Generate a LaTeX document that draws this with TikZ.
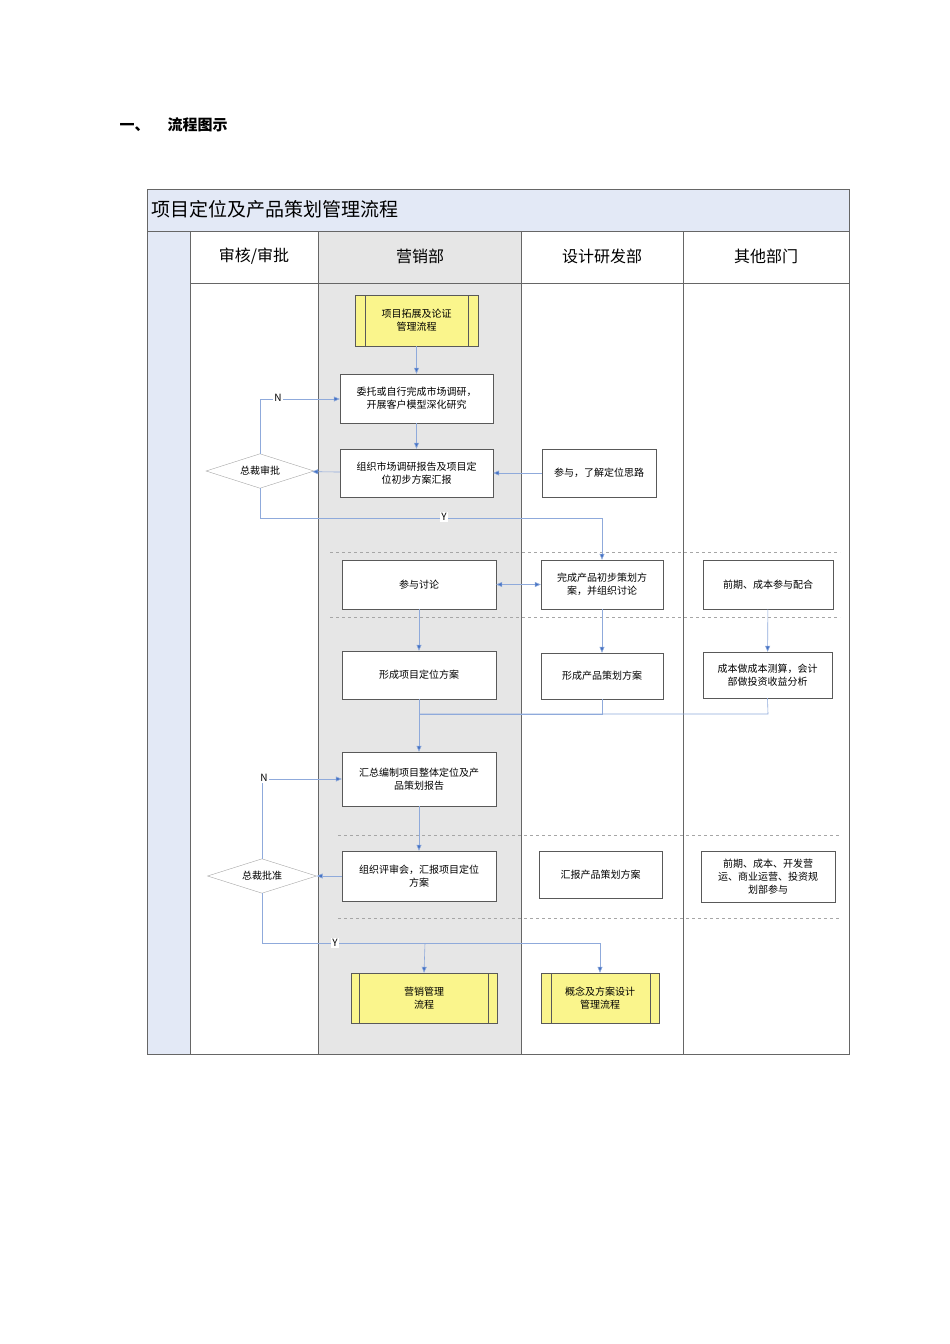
\documentclass[tikz,border=0pt]{standalone}
\usepackage{fontspec}
\setmainfont{Noto Sans CJK SC}
\usetikzlibrary{shapes.geometric,arrows.meta}
\definecolor{lane}{HTML}{E6E6E6}
\definecolor{strip}{HTML}{E3E9F6}
\definecolor{ln}{HTML}{8FAADB}
\definecolor{ar}{HTML}{4472C4}
\definecolor{yel}{HTML}{FAF58C}
\begin{document}
\begin{tikzpicture}[x=1pt,y=-1pt,
  box/.style={draw=gray!70!black,fill=white,minimum width=#1,align=center,font=\fontsize{10}{13}\selectfont,inner sep=1pt},
  box/.default=154pt,
  sub/.style={draw=gray!70!black,fill=yel,align=center,font=\fontsize{10}{13}\selectfont},
  dia/.style={diamond,draw=gray!70,fill=white,aspect=1.8,inner sep=1pt,font=\fontsize{10}{12}\selectfont,minimum width=#1},
  con/.style={draw=ln,line width=0.6pt,-{Triangle[length=6pt,width=5pt,fill=ar]}},
  pl/.style={draw=ln,line width=0.6pt},
  dsh/.style={draw=gray!70,dashed,line width=0.6pt},
  lbl/.style={fill=white,inner sep=1pt,font=\fontsize{10}{10}\selectfont}]
\useasboundingbox (0,0) rectangle (950,1344);
\node[anchor=west,font=\fontsize{15}{15}\selectfont\bfseries] (hd) at (116,125) {一、\hspace{18pt}流程图示};
% frame
\fill[strip] (147,189) rectangle (849,231);
\fill[strip] (147,231) rectangle (190,1054);
\fill[lane] (318,231) rectangle (521,1054);
\draw[gray!80!black] (147,189) rectangle (849,1054);
\draw[gray!80!black] (147,231) -- (849,231);
\draw[gray!80!black] (190,283) -- (849,283);
\foreach \x in {190,318,521,683} \draw[gray!80!black] (\x,231) -- (\x,1054);
\node[anchor=west,font=\fontsize{19}{19}\selectfont] (tt) at (148,209) {项目定位及产品策划管理流程};
\node[font=\fontsize{16}{16}\selectfont] (h1) at (254,256) {审核/审批};
\node[font=\fontsize{16}{16}\selectfont] (h2) at (420,256) {营销部};
\node[font=\fontsize{16}{16}\selectfont] (h3) at (602,256) {设计研发部};
\node[font=\fontsize{16}{16}\selectfont] (h4) at (766,256) {其他部门};
% dashed separators
\draw[dsh] (330,552) -- (840,552);
\draw[dsh] (330,617) -- (840,617);
\draw[dsh] (338,835) -- (840,835);
\draw[dsh] (338,918) -- (840,918);
% nodes
\node[sub,minimum width=123pt,minimum height=51pt] (s1) at (416.5,320.5) {项目拓展及论证\\管理流程};
\draw[gray!70!black] (365,295) -- (365,346) (468,295) -- (468,346);
\node[box=153pt,minimum height=49pt] (b1) at (416.5,398.5) {委托或自行完成市场调研，\\开展客户模型深化研究};
\node[box=153pt,minimum height=48pt] (b2) at (416.5,473) {组织市场调研报告及项目定\\位初步方案汇报};
\node[box=114pt,minimum height=48pt] (b3) at (599,473) {参与，了解定位思路};
\node[dia=108pt] (d1) at (260,471) {总裁审批};
\node[box=154pt,minimum height=49pt] (b4) at (419,584.5) {参与讨论};
\node[box=122pt,minimum height=49pt] (b5) at (602,584.5) {完成产品初步策划方\\案，并组织讨论};
\node[box=130pt,minimum height=49pt] (b6) at (768,584.5) {前期、成本参与配合};
\node[box=154pt,minimum height=48pt] (b7) at (419,675) {形成项目定位方案};
\node[box=122pt,minimum height=46pt] (b8) at (602,676) {形成产品策划方案};
\node[box=129pt,minimum height=46pt] (b9) at (767.5,675) {成本做成本测算，会计\\部做投资收益分析};
\node[box=154pt,minimum height=54pt] (b10) at (419,779) {汇总编制项目整体定位及产\\品策划报告};
\node[box=154pt,minimum height=50pt] (b11) at (419,876) {组织评审会，汇报项目定位\\方案};
\node[box=123pt,minimum height=47pt] (b12) at (600.5,874.5) {汇报产品策划方案};
\node[box=134pt,minimum height=51pt] (b13) at (768,876.5) {前期、成本、开发营\\运、商业运营、投资规\\划部参与};
\node[dia=109pt] (d2) at (262,876) {总裁批准};
\node[sub,minimum width=146pt,minimum height=50pt] (e1) at (424,998) {营销管理\\流程};
\draw[gray!70!black] (359,973) -- (359,1023) (488,973) -- (488,1023);
\node[sub,minimum width=118pt,minimum height=50pt] (e2) at (600,998) {概念及方案设计\\管理流程};
\draw[gray!70!black] (551,973) -- (551,1023) (650,973) -- (650,1023);
% connectors
\coordinate (ym1) at (260,518);
\coordinate (ym2) at (602,518);
\coordinate (nm1) at (260,399);
\coordinate (mj) at (420,714);
\coordinate (m8) at (602,714);
\coordinate (m9) at (768,714);
\coordinate (nm2) at (262,779);
\coordinate (y2a) at (262,943);
\coordinate (y2b) at (425,943);
\coordinate (y2c) at (600,943);
\path[con] (s1) -- (b1);
\path[con] (b1) -- (b2);
\path[con] (b3) -- (b2);
\path[con] (b2) -- (d1);
\path[pl] (d1.north) -- (nm1);
\path[con] (nm1) -- (b1.west |- nm1);
\path[pl] (d1.south) -- (ym1) -- (ym2);
\path[con] (ym2) -- (b5.north);
\path[con,{Triangle[length=6pt,width=5pt,fill=ar]}-{Triangle[length=6pt,width=5pt,fill=ar]}] (b4) -- (b5);
\path[con] (b4) -- (b7);
\path[con] (b5) -- (b8);
\path[con] (b6) -- (b9);
\path[pl] (b8.south) -- (m8) -- (mj);
\path[pl] (b9.south) -- (m9) -- (mj);
\path[con] (b7.south) -- (b10.north);
\path[con] (b10) -- (b11);
\path[con] (b11) -- (d2);
\path[pl] (d2.north) -- (nm2);
\path[con] (nm2) -- (b10.west);
\path[pl] (d2.south) -- (y2a) -- (y2c);
\path[con] (y2b) -- (e1.north);
\path[con] (y2c) -- (e2.north);
\node[lbl] (ln1) at (278,398) {N};
\node[lbl] (ly1) at (444,517) {Y};
\node[lbl] (ln2) at (264,778) {N};
\node[lbl] (ly2) at (335,943) {Y};
\end{tikzpicture}
\end{document}
